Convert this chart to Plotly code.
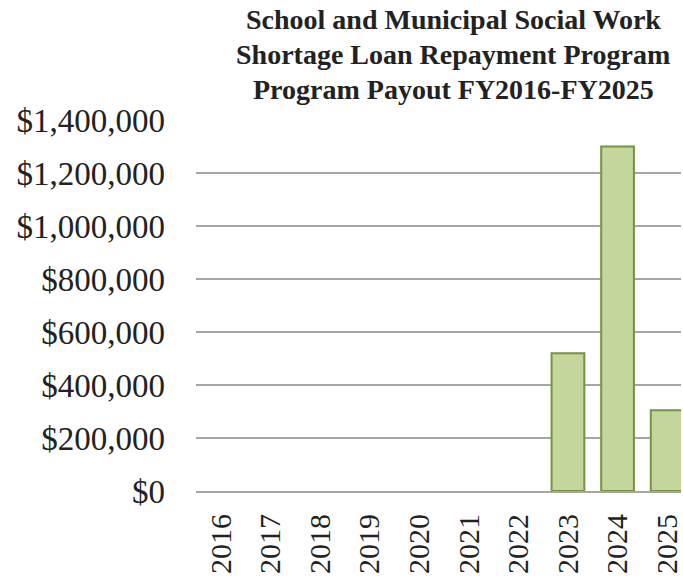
import plotly.graph_objects as go

years = ["2016", "2017", "2018", "2019", "2020", "2021", "2022", "2023", "2024", "2025"]
payout = [0, 0, 0, 0, 0, 0, 0, 520000, 1300000, 305000]

tick_vals = [0, 200000, 400000, 600000, 800000, 1000000, 1200000, 1400000]
tick_text = ["$0", "$200,000", "$400,000", "$600,000", "$800,000",
             "$1,000,000", "$1,200,000", "$1,400,000"]

title_lines = ["School and Municipal Social Work",
               "Shortage Loan Repayment Program",
               "Program Payout FY2016-FY2025"]

serif = "Liberation Serif, Times New Roman, serif"

W, H = 683, 582
ML, MT, MB = 196, 120, 91
plot_w = W - ML
plot_h = H - MT - MB

# empty years get no outline so nothing shows on the baseline
outline_w = [2 if v > 0 else 0 for v in payout]

fig = go.Figure(
    go.Bar(
        x=years,
        y=payout,
        marker=dict(color="#c3d69b", line=dict(color="#77933c", width=outline_w)),
        width=0.66,
    )
)

# title as three lines so the line spacing can follow the original
for i, line in enumerate(title_lines):
    y_px = 20 + 34.5 * i
    fig.add_annotation(
        text=line,
        xref="paper", yref="paper",
        x=(454.5 - ML) / plot_w, y=(H - MB - y_px) / plot_h,
        xanchor="center", yanchor="middle",
        showarrow=False,
        font=dict(family=serif, size=28, color="#222222", weight="bold"),
    )

fig.update_layout(
    width=W,
    height=H,
    margin=dict(l=ML, r=0, t=MT, b=MB),
    paper_bgcolor="white",
    plot_bgcolor="white",
    showlegend=False,
    font=dict(family=serif, color="#222222"),
)

fig.update_xaxes(
    type="category",
    range=[-0.5, -0.5 + plot_w / 49.8],
    tickangle=-90,
    tickfont=dict(size=30),
    showgrid=False,
    showline=True,
    linecolor="#a6a6a6",
    linewidth=2,
    layer="above traces",
    ticks="",
    ticklabelstandoff=9,
)

fig.update_yaxes(
    range=[0, 1400000],
    tickvals=tick_vals,
    ticktext=tick_text,
    tickfont=dict(size=33),
    showgrid=True,
    gridcolor="#a6a6a6",
    gridwidth=2,
    zeroline=False,
    showline=False,
    ticks="",
    ticklabelstandoff=30,
)

# drop the default page margin so the figure fills the window exactly
fig.write_html(
    "out.html",
    config={"displayModeBar": False},
    post_script="document.body.style.margin = '0';",
)
